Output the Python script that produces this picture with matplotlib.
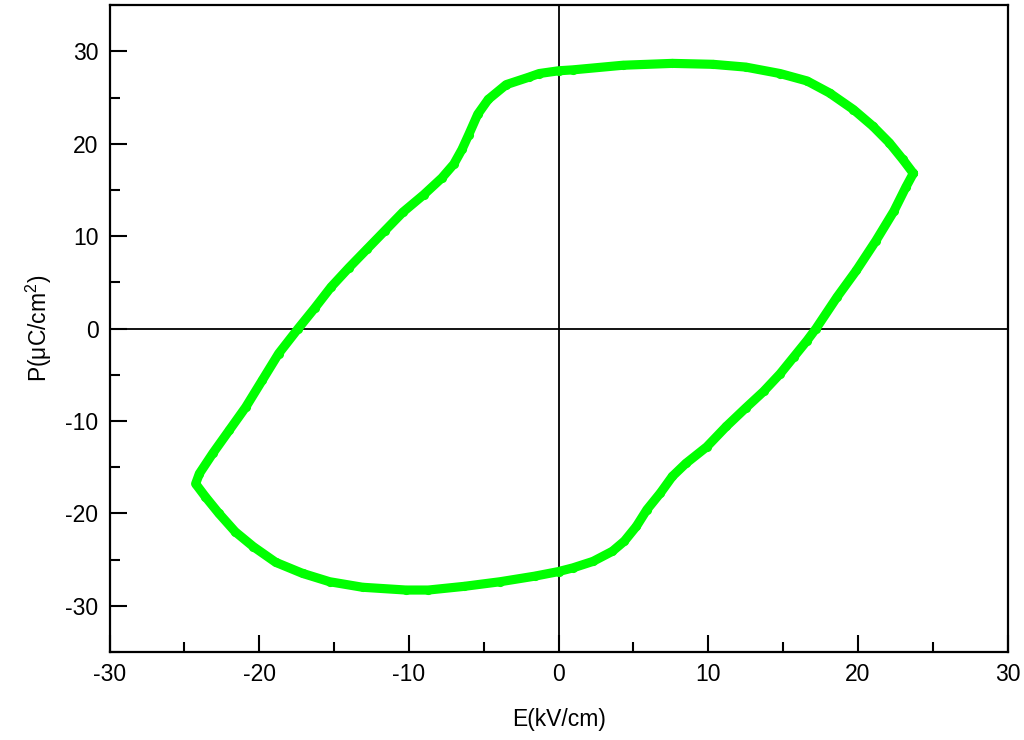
import matplotlib
matplotlib.use("Agg")
import matplotlib.pyplot as plt
from matplotlib.ticker import MultipleLocator

plt.rcParams['font.family'] = ['Liberation Sans', 'DejaVu Sans']
plt.rcParams['mathtext.default'] = 'regular'
plt.rcParams['axes.unicode_minus'] = False

# Loop data (E in kV/cm, P in uC/cm^2), ordered around the loop
E = [23.7, 23.0, 22.1, 21.0, 19.7, 18.1, 16.6, 14.8, 12.5, 10.3, 7.6, 4.3, 0.96, 0.0,
     -1.3, -2.0, -3.5, -4.7, -5.4, -6.0, -6.45, -7.0, -7.8, -9.0, -10.4, -11.6, -12.8,
     -14.0, -15.2, -16.3, -17.4, -18.7, -19.8, -20.9, -22.0, -23.1, -24.0,
     -24.25,
     -23.6, -22.7, -21.6, -20.4, -18.9, -17.1, -15.3, -13.1, -10.2, -8.7, -6.3, -3.9, -1.6,
     0.0, 0.96, 2.3, 3.6, 4.4, 5.2, 5.9, 6.8, 7.6, 8.5, 9.9, 11.2, 12.5, 13.7, 14.8,
     15.7, 16.6, 17.2, 18.6, 19.9, 21.2, 22.4, 23.2, 23.7]
P = [16.8, 18.3, 20.1, 21.9, 23.7, 25.5, 26.8, 27.6, 28.3, 28.6, 28.7, 28.5, 28.0, 27.9,
     27.6, 27.2, 26.4, 24.8, 23.2, 21.0, 19.4, 17.8, 16.3, 14.5, 12.6, 10.6, 8.6,
     6.6, 4.5, 2.2, 0.0, -2.7, -5.6, -8.5, -11.0, -13.5, -15.7,
     -16.8,
     -18.2, -20.0, -22.0, -23.6, -25.3, -26.5, -27.4, -28.0, -28.3, -28.3, -27.9, -27.4, -26.8,
     -26.3, -25.9, -25.2, -24.1, -23.0, -21.4, -19.6, -17.8, -16.0, -14.6, -12.8, -10.6,
     -8.6, -6.8, -4.9, -3.1, -1.3, 0.0, 3.4, 6.3, 9.5, 12.7, 15.3, 16.8]

x_ticks = [-30, -20, -10, 0, 10, 20, 30]
y_ticks = [-30, -20, -10, 0, 10, 20, 30]

fig = plt.figure(figsize=(10.24, 7.40), dpi=100)
ax = fig.add_axes([0.107, 0.119, 0.877, 0.874])

ax.axhline(0, color='black', lw=1.3, zorder=1)
ax.axvline(0, color='black', lw=1.3, zorder=1)

ax.plot(E, P, color='#00FF00', lw=6.6, solid_capstyle='round', solid_joinstyle='round',
        marker='o', markersize=6.6, markeredgewidth=0, zorder=3)

ax.set_xlim(-30, 30)
ax.set_ylim(-35, 35)
ax.set_xticks(x_ticks)
ax.set_yticks(y_ticks)
ax.xaxis.set_minor_locator(MultipleLocator(5))
ax.yaxis.set_minor_locator(MultipleLocator(5))
ax.tick_params(which='both', direction='in', top=False, right=False, width=1.5,
               labelsize=16.5, pad=8, colors='black')
ax.tick_params(which='major', length=12)
ax.tick_params(which='minor', length=7)
for s in ax.spines.values():
    s.set_linewidth(1.6)

ax.set_xlabel('E(kV/cm)', fontsize=16.5, labelpad=16)
ax.set_ylabel('P(μC/cm$^{2}$)', fontsize=16.5, labelpad=8)

fig.savefig('out.png', dpi=100)
